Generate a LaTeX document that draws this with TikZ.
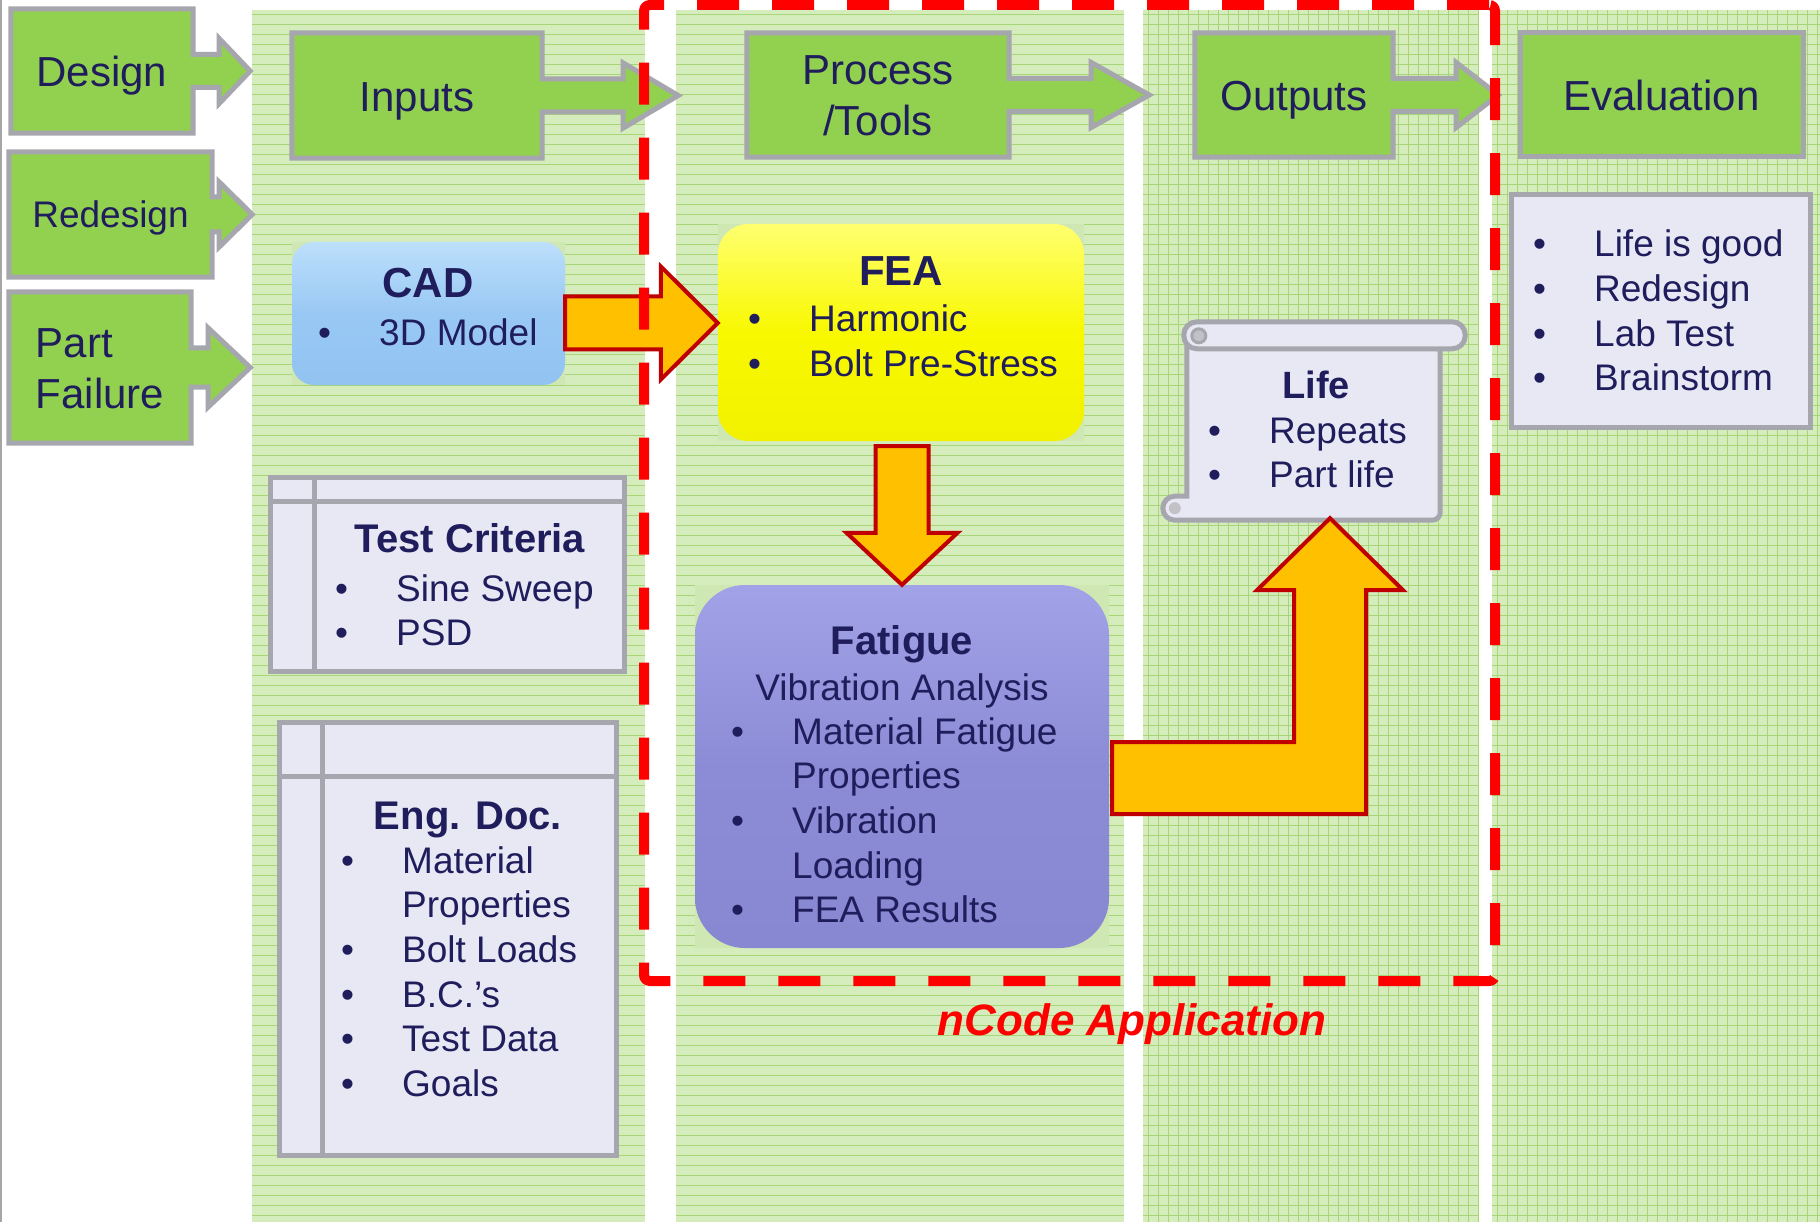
\documentclass[tikz,border=0pt]{standalone}
\usepackage{fontspec}
\setmainfont{Liberation Sans}
\usetikzlibrary{calc,fit,positioning}

\definecolor{ink}{HTML}{1F1D5C}
\definecolor{boxgreen}{HTML}{92D050}
\definecolor{edgegray}{HTML}{A6A6AE}
\definecolor{lavender}{HTML}{E8E8F5}
\definecolor{colgreen}{HTML}{D5ECBC}
\definecolor{gridgreen}{HTML}{A8D676}
\definecolor{halo}{HTML}{CFE8B3}
\definecolor{cadblue}{HTML}{99C8F4}
\definecolor{cadtop}{HTML}{BCDFFB}
\definecolor{cadbot}{HTML}{92C3F1}
\definecolor{feayellow}{HTML}{F8F800}
\definecolor{featop}{HTML}{FFFF70}
\definecolor{feabot}{HTML}{F2F200}
\definecolor{fatblue}{HTML}{8C8CD6}
\definecolor{fattop}{HTML}{A2A2E8}
\definecolor{fatbot}{HTML}{8787D2}
\definecolor{arrfill}{HTML}{FFC000}
\definecolor{arredge}{HTML}{C00000}
\definecolor{ncodered}{HTML}{FF0000}

\pgfdeclarelayer{back}
\pgfdeclarelayer{mid}
\pgfsetlayers{back,mid,main}

\newcommand{\itembul}{\makebox[61pt][l]{\textbullet}}
\newcommand{\itemind}{\hspace*{61pt}}

% green box + arrow outline: #1 node, #2 shaft half, #3 head half, #4 shaft length, #5 head length
\newcommand{\calloutright}[5]{%
  \filldraw[callout] (#1.north west) -- (#1.north east)
    -- ($(#1.east)+(0,-#2)$) -- ($(#1.east)+(#4,-#2)$) -- ($(#1.east)+(#4,-#3)$)
    -- ($(#1.east)+(#4+#5,0)$)
    -- ($(#1.east)+(#4,#3)$) -- ($(#1.east)+(#4,#2)$) -- ($(#1.east)+(0,#2)$)
    -- (#1.south east) -- (#1.south west) -- cycle;}

\begin{document}
\begin{tikzpicture}[
  x=1pt, y=-1pt,
  % --- global style ---
  every node/.style={text=ink},
  greenbox/.style={inner sep=0, font=\fontsize{42}{51}\selectfont,
    text height=40, text depth=8},
  twoline/.style={text height=91, text depth=9},
  callout/.style={fill=boxgreen, draw=edgegray, line width=5, line join=miter},
  listbox/.style={draw=edgegray, fill=lavender, line width=5, inner sep=0, outer sep=0},
  listline/.style={draw=edgegray, line width=5},
  scroll/.style={fill=lavender, draw=edgegray, line width=5},
  cadbox/.style={minimum width=273, minimum height=143, rounded corners=22, inner sep=0,
    top color=cadtop, bottom color=cadbot, middle color=cadblue},
  feabox/.style={minimum width=366, minimum height=217, rounded corners=30, inner sep=0,
    top color=featop, bottom color=feabot, middle color=feayellow},
  fatbox/.style={minimum width=414, minimum height=363, rounded corners=50, inner sep=0,
    top color=fattop, bottom color=fatbot, middle color=fatblue},
  ttl/.style={font=\fontsize{40}{48}\selectfont\bfseries, inner sep=0, anchor=base},
  % list nodes sit on the baseline of their last line
  lst/.style={font=\fontsize{37}{44.7}\selectfont, align=left, inner sep=0, anchor=base west},
  blockarr/.style={fill=arrfill, draw=arredge, line width=4, line join=miter},
  ncodeframe/.style={draw=ncodered, line width=10, dash pattern=on 42pt off 33pt,
    rounded corners=6, inner sep=0},
  gridline/.style={draw=gridgreen, line width=1},
]
\useasboundingbox (0,0) rectangle (1820,1222);

% ====== Background columns ======
\begin{pgfonlayer}{back}
  \fill[white] (0,0) rectangle (1820,1222);
  \draw[gray!70, line width=1.5] (0.75,0) -- (0.75,1222);
  \foreach \xa/\xb in {252/645,676/1124,1143/1478,1492/1820} {
    \fill[colgreen] (\xa,10) rectangle (\xb,1222);
    \foreach \y in {15,25,...,1215} \draw[gridline] (\xa,\y) -- (\xb,\y);
  }
  \foreach \x in {1148,1158,...,1478} \draw[gridline] (\x,10) -- (\x,1222);
  \foreach \x in {1497,1507,...,1817} \draw[gridline] (\x,10) -- (\x,1222);
\end{pgfonlayer}

% ====== Header row ======
\node[greenbox, minimum width=182, minimum height=124] (design) at (102,71) {Design};
\node[greenbox, minimum width=203, minimum height=125, font=\fontsize{37}{44}\selectfont,
  text height=35, text depth=8] (redesign) at (110.5,214.5) {Redesign};
\node[greenbox, twoline, minimum width=182, minimum height=151, align=left]
  (failure) at (100,367.5) {Part\\Failure};
\node[greenbox, minimum width=250, minimum height=125] (inputs) at (417,95.5) {Inputs};
\node[greenbox, twoline, minimum width=262, minimum height=124, align=center]
  (process) at (878,95) {Process\\/Tools};
\node[greenbox, minimum width=198, minimum height=124] (outputs) at (1294,95) {Outputs};
\node[greenbox, minimum width=283, minimum height=124, draw=edgegray, fill=boxgreen,
  line width=5] (evaluation) at (1661.5,95) {Evaluation};

% ====== Tools ======
\node[cadbox] (cad) at (428.5,313.5) {};
\node[ttl, font=\fontsize{42}{50}\selectfont\bfseries] (cadttl) at (428,298) {CAD};
\node[lst] (cadlst) at (318,345) {\itembul 3D Model};

\node[feabox] (fea) at (901,332.5) {};
\node[ttl, font=\fontsize{42}{50}\selectfont\bfseries] (feattl) at (901,286) {FEA};
\node[lst] (fealst) at (748,376.7) {\itembul Harmonic\\\itembul Bolt Pre-Stress};

\node[fatbox] (fatigue) at (902,766.5) {};
\node[ttl] (fatttl) at (902,654) {Fatigue};
\node[anchor=base, inner sep=0, font=\fontsize{37}{44.7}\selectfont] (fatsub) at (902,700)
  {Vibration Analysis};
\node[lst] (fatlst) at (731,922.8) {\itembul Material Fatigue\\\itemind Properties\\
  \itembul Vibration\\\itemind Loading\\\itembul FEA Results};

% ====== Input documents ======
\node[listbox, minimum width=354, minimum height=194] (crit) at (447,574) {};
\draw[listline] ($(crit.north west)+(0,24)$) -- ($(crit.north east)+(0,24)$);
\draw[listline] ($(crit.north west)+(44,0)$) -- ($(crit.south west)+(44,0)$);
\node[ttl] (critttl) at (470,552) {Test Criteria};
\node[lst] (critlst) at (335,645.7) {\itembul Sine Sweep\\\itembul PSD};

\node[listbox, minimum width=337, minimum height=433] (doc) at (447.5,938.5) {};
\draw[listline] ($(doc.north west)+(0,54)$) -- ($(doc.north east)+(0,54)$);
\draw[listline] ($(doc.north west)+(43,0)$) -- ($(doc.south west)+(43,0)$);
\node[ttl] (docttl) at (468,829) {Eng. Doc.};
\node[lst] (doclst) at (341,1096.5) {\itembul Material\\\itemind Properties\\\itembul Bolt Loads\\
  \itembul B.C.’s\\\itembul Test Data\\\itembul Goals};

% ====== Output + evaluation ======
\node[inner sep=0, minimum width=253, minimum height=171] (life) at (1313.5,434.5) {};
\node[ttl, font=\fontsize{38}{46}\selectfont\bfseries] (lifettl) at (1316,398) {Life};
\node[lst] (lifelst) at (1208,487.7) {\itembul Repeats\\\itembul Part life};

\node[listbox, minimum width=299, minimum height=232] (evallist) at (1660.5,311) {};
\node[lst] (evallst) at (1533,391) {\itembul Life is good\\\itembul Redesign\\
  \itembul Lab Test\\\itembul Brainstorm};

% ====== Shapes behind the text ======
\begin{pgfonlayer}{mid}
  \fill[halo] (cad.south west) rectangle (cad.north east);
  \fill[halo] (fea.south west) rectangle (fea.north east);
  \fill[halo] (fatigue.south west) rectangle (fatigue.north east);
  \calloutright{design}{16.5}{32.5}{26}{31}
  \calloutright{redesign}{17.5}{32.5}{7}{33}
  \calloutright{failure}{19.5}{39.5}{17}{42}
  \calloutright{inputs}{16.5}{32.5}{81}{55}
  \calloutright{process}{16.5}{32.5}{82}{58}
  \calloutright{outputs}{16.5}{32.5}{63}{42}
  % scroll
  \filldraw[scroll] ($(life.north west)+(0,-13)$) -- ($(life.south west)+(0,-24)$)
    -- ($(life.south west)+(-12,-24)$) arc[start angle=90, end angle=270, radius=12pt]
    -- ($(life.south east)+(-8,0)$) arc[start angle=-90, end angle=0, radius=8pt]
    -- (life.north east) -- cycle;
  \fill[edgegray!70] ($(life.south west)+(-12,-12)$) circle[radius=6pt];
  \filldraw[scroll, rounded corners=13] ($(life.north west)+(-3,-27)$)
    rectangle ($(life.north east)+(25,0)$);
  \filldraw[edgegray!70, draw=edgegray, line width=3] ($(life.north west)+(12,-13)$)
    circle[radius=7pt];
\end{pgfonlayer}

% ====== Block arrows ======
\coordinate (m1) at ($(cad.east)!.5!(fea.west)$);
\draw[blockarr] ($(cad.east |- m1)+(0,-26.5)$) -- ($(fea.west |- m1)+(-57,-26.5)$)
  -- ($(fea.west |- m1)+(-57,-56.5)$) -- (fea.west |- m1)
  -- ($(fea.west |- m1)+(-57,56.5)$) -- ($(fea.west |- m1)+(-57,26.5)$)
  -- ($(cad.east |- m1)+(0,26.5)$) -- cycle;

\draw[blockarr] ($(fatigue.north |- fea.south)+(-26.5,5)$) -- ($(fatigue.north)+(-26.5,-52)$)
  -- ($(fatigue.north)+(-55.5,-52)$) -- (fatigue.north)
  -- ($(fatigue.north)+(55.5,-52)$) -- ($(fatigue.north)+(26.5,-52)$)
  -- ($(fatigue.north |- fea.south)+(26.5,5)$) -- cycle;

\coordinate (tip3) at ($(life.south)+(16.5,-2)$);
\draw[blockarr] ($(fatigue.east |- tip3)+(3,224)$) -- ($(tip3)+(-36,224)$)
  -- ($(tip3)+(-36,72)$) -- ($(tip3)+(-73,72)$) -- (tip3)
  -- ($(tip3)+(73,72)$) -- ($(tip3)+(36,72)$) -- ($(tip3)+(36,296)$)
  -- ($(fatigue.east |- tip3)+(3,296)$) -- cycle;

% ====== nCode frame ======
\node[ncodeframe, fit={(644,5) (1495,981)}] (ncode) {};
\node[font=\fontsize{44}{50}\selectfont\bfseries\itshape, text=ncodered, anchor=base,
  inner sep=0] (ncodelbl) at (1132,1035) {nCode Application};

\end{tikzpicture}
\end{document}
